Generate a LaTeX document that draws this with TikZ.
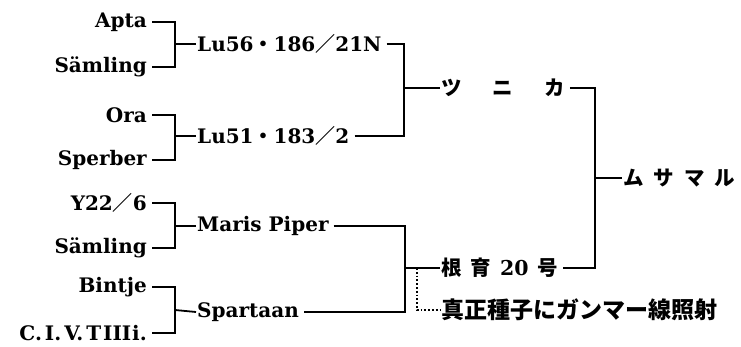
\documentclass[tikz,border=0pt]{standalone}
\usepackage{fontspec}
\setmainfont{DejaVu Serif}
\newfontfamily\jp{Noto Sans CJK JP}
\newcommand{\jdot}{{\jp\bfseries ・}}
\newcommand{\jsl}{{\jp\bfseries ／}}
\begin{document}
\begin{tikzpicture}[x=1pt,y=-1pt,
  pname/.style={font=\bfseries\fontsize{20}{20}\selectfont, inner sep=1pt},
  jname/.style={font=\jp\bfseries\fontsize{20.5}{20.5}\selectfont, inner sep=1pt},
  ln/.style={line width=1.8pt},
  dt/.style={line width=1.8pt, dotted}]
\useasboundingbox (0,0) rectangle (741,347);
% left parents
\node[pname, anchor=east] (apta) at (148,22) {Apta};
\node[pname, anchor=east] (sam1) at (148,67) {Sämling};
\node[pname, anchor=east] (ora) at (148,115) {Ora};
\node[pname, anchor=east] (sper) at (148,160) {Sperber};
\node[pname, anchor=east] (y22) at (148,203) {Y22\jsl 6};
\node[pname, anchor=east] (sam2) at (148,248) {Sämling};
\node[pname, anchor=east] (bint) at (148,287) {Bintje};
\node[pname, anchor=east] (civ) at (148,333) {C.\hspace{3pt}I.\hspace{3pt}V.\hspace{3pt}T\hspace{2pt}III\hspace{1pt}i.};
% junctions
\coordinate (j1) at (175,44);
\coordinate (j2) at (175,136);
\coordinate (j3) at (175,226);
\coordinate (j4) at (175,310);
\coordinate (j5) at (404,88);
\coordinate (j6) at (405,268);
\coordinate (j7) at (595,178);
% middle
\node[pname, anchor=west] (lu56) at (196,44) {Lu56\jdot 186\jsl 21N};
\node[pname, anchor=west] (lu51) at (196,136) {Lu51\jdot 183\jsl 2};
\node[pname, anchor=west] (mp) at (196,226) {Maris Piper};
\node[pname, anchor=west] (sp) at (196,312) {Spartaan};
% right
\node[jname, anchor=west] (tnk) at (440,88) {ツ\hspace{31pt}ニ\hspace{31pt}カ};
\node[jname, anchor=west] (konk) at (440,268) {根\hspace{9pt}育\hspace{9pt}{\fontspec{DejaVu Serif}\bfseries 20}\hspace{9pt}号};
\node[jname, anchor=west] (msm) at (622,178) {ム\hspace{10pt}サ\hspace{10pt}マ\hspace{10pt}ル};
\node[jname, anchor=west, font=\jp\bfseries\fontsize{23}{23}\selectfont] (gam) at (440,310) {真正種子にガンマー線照射};
% connectors
\draw[ln] ([xshift=4pt]apta.east) -| (j1);
\draw[ln] ([xshift=4pt]sam1.east) -| (j1);
\draw[ln] (j1) -- (lu56.west);
\draw[ln] ([xshift=4pt]ora.east) -| (j2);
\draw[ln] ([xshift=4pt]sper.east) -| (j2);
\draw[ln] (j2) -- (lu51.west);
\draw[ln] ([xshift=4pt]y22.east) -| (j3);
\draw[ln] ([xshift=4pt]sam2.east) -| (j3);
\draw[ln] (j3) -- (mp.west);
\draw[ln] ([xshift=4pt]bint.east) -| (j4);
\draw[ln] ([xshift=4pt]civ.east) -| (j4);
\draw[ln] (j4) -- (sp.west);
\draw[ln] ([xshift=4pt]lu56.east) -| (j5);
\draw[ln] ([xshift=4pt]lu51.east) -| (j5);
\draw[ln] (j5) -- (tnk.west);
\draw[ln] ([xshift=4pt]mp.east) -| (j6);
\draw[ln] ([xshift=4pt]sp.east) -| (j6);
\draw[ln] (j6) -- (konk.west);
\draw[ln] ([xshift=4pt]tnk.east) -| (j7);
\draw[ln] ([xshift=4pt]konk.east) -| (j7);
\draw[ln] (j7) -- (msm.west);
\coordinate (d0) at (417,268);
\draw[dt] (d0) |- (gam.west);
\end{tikzpicture}
\end{document}
